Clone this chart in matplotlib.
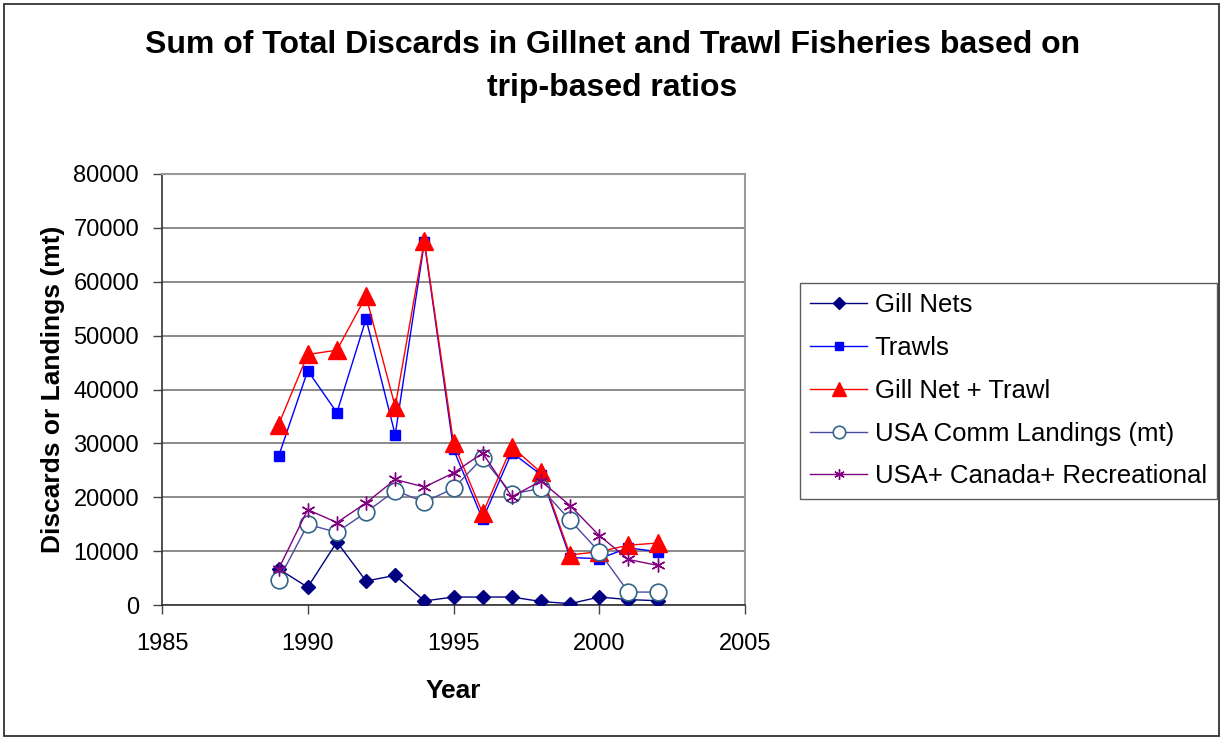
import matplotlib.pyplot as plt
from matplotlib.patches import Rectangle

plt.rcParams['font.family'] = ['Liberation Sans', 'DejaVu Sans']

# data
years = [1989, 1990, 1991, 1992, 1993, 1994, 1995, 1996, 1997, 1998, 1999, 2000, 2001, 2002]
gill_nets = [6700, 3300, 11700, 4450, 5500, 750, 1480, 1480, 1480, 650, 250, 1480, 1000, 800]
trawls = [27600, 43500, 35700, 53100, 31600, 67300, 28900, 15900, 28300, 24200, 8800, 8600, 10600, 9900]
gill_trawl = [33500, 46500, 47300, 57300, 36800, 67600, 30100, 17000, 29400, 24600, 9300, 9900, 11100, 11500]
usa_comm = [4650, 14950, 13500, 17200, 21250, 19100, 21650, 27300, 20600, 21650, 15750, 9850, 2400, 2400]
usa_can_rec = [6700, 17700, 15300, 18950, 23300, 21900, 24500, 28200, 20100, 23000, 18450, 12900, 8450, 7350]

series_labels = ["Gill Nets", "Trawls", "Gill Net + Trawl",
                 "USA Comm Landings (mt)", "USA+ Canada+ Recreational"]
yticks = [0, 10000, 20000, 30000, 40000, 50000, 60000, 70000, 80000]
xticks = [1985, 1990, 1995, 2000, 2005]

fig = plt.figure(figsize=(12.25, 7.4), dpi=100)

# chart area border like the spreadsheet original
fig.patches.append(Rectangle((0.003, 0.005), 0.992, 0.99, transform=fig.transFigure,
                             fill=False, edgecolor='#333333', linewidth=1.3))

ax = fig.add_axes([162 / 1225, 1 - 605 / 740, (745 - 162) / 1225, (605 - 174) / 740])

ax.plot(years, gill_nets, color='#000080', lw=1, marker='D', ms=7.5,
        mfc='#000080', mec='#000080', label=series_labels[0], zorder=3)
ax.plot(years, trawls, color='#0000FF', lw=1, marker='s', ms=7.5,
        mfc='#0000FF', mec='#0000FF', label=series_labels[1], zorder=4)
ax.plot(years, gill_trawl, color='#FF0000', lw=1, marker='^', ms=13,
        mfc='#FF0000', mec='#FF0000', label=series_labels[2], zorder=5)
ax.plot(years, usa_comm, color='#4B4BA0', lw=1, marker='o', ms=12,
        mfc='white', mec='#336688', mew=1.2, label=series_labels[3], zorder=6)
ax.plot(years, usa_can_rec, color='#800080', lw=1, marker=(6, 2, 0), ms=10,
        mec='#800080', mew=1, label=series_labels[4], zorder=7)

ax.set_xlim(1985, 2005)
ax.set_ylim(0, 80000)
ax.set_xticks(xticks)
ax.set_yticks(yticks)
ax.tick_params(axis='both', labelsize=17, direction='out', length=6.5, width=1, color='#444444')
ax.tick_params(axis='y', pad=10)
ax.tick_params(axis='x', pad=14)
ax.grid(axis='y', color='#777777', lw=1.2)
ax.set_axisbelow(True)

for side in ['top', 'right']:
    ax.spines[side].set_color('#999999')
    ax.spines[side].set_linewidth(1.5)
for side in ['left', 'bottom']:
    ax.spines[side].set_color('#333333')
    ax.spines[side].set_linewidth(1.2)

ax.set_xlabel("Year", fontsize=19, fontweight='bold', labelpad=17)
ax.set_ylabel("Discards or Landings (mt)", fontsize=19, fontweight='bold', labelpad=6)

fig.text(0.5, 1 - 45 / 740, "Sum of Total Discards in Gillnet and Trawl Fisheries based on",
         ha='center', va='center', fontsize=23, fontweight='bold')
fig.text(0.5, 1 - 88 / 740, "trip-based ratios",
         ha='center', va='center', fontsize=23, fontweight='bold')

leg = fig.legend(loc='upper left', bbox_to_anchor=(800 / 1225, 1 - 283 / 740),
                 fontsize=18.5, frameon=True, fancybox=False, borderpad=0.4,
                 labelspacing=0.73, handlelength=2.2, handletextpad=0.3,
                 borderaxespad=0)
leg.get_frame().set_edgecolor('#333333')
leg.get_frame().set_linewidth(1.0)
for h in leg.legend_handles:
    h.set_markersize(h.get_markersize() * 0.75)

fig.savefig("out.png", dpi=100)
